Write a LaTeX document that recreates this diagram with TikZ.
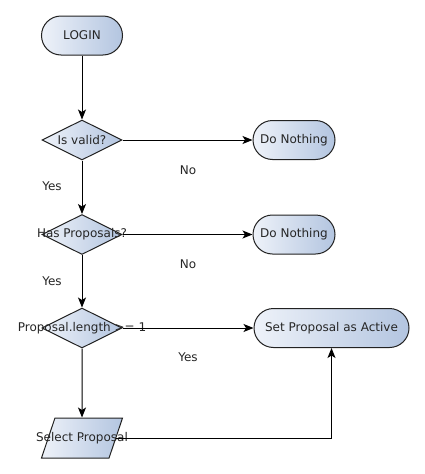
\documentclass[tikz,border=0pt]{standalone}
\usepackage{fontspec}
\setmainfont{DejaVu Sans}
\usetikzlibrary{shapes.geometric,arrows.meta}
\definecolor{fillA}{HTML}{EEF2F9}
\definecolor{fillB}{HTML}{B3C5E0}
\definecolor{edge}{HTML}{222222}
\tikzset{
  every node/.style={font=\fontsize{12}{14}\selectfont, text=black!85},
  shade/.style={draw=edge, line width=1pt, left color=fillA, right color=fillB},
  terminal/.style={shade, rectangle, rounded corners=19.5pt, minimum height=39pt, inner sep=0pt},
  decision/.style={shade, diamond, minimum width=80pt, minimum height=40pt, inner sep=0pt},
  iobox/.style={shade, trapezium, trapezium left angle=76, trapezium right angle=104,
    trapezium stretches=true, minimum width=81pt, minimum height=40pt, inner sep=0pt},
  flow/.style={draw=black, line width=1pt, -{Stealth[length=10pt,width=8pt,inset=2.5pt]}},
  note/.style={inner sep=0pt}
}
\begin{document}
\begin{tikzpicture}[x=1pt,y=-1pt]
  \path[use as bounding box, fill=white] (0,0) rectangle (424,474);

  % main column
  \node[terminal, minimum width=81pt] (login) at (82,35.5) {LOGIN};
  \node[decision, label={center:Is valid?}] (valid) at (82,140) {};
  \node[decision, label={center:Has Proposals?}] (has) at (82,234.5) {};
  \node[decision, label={center:Proposal.length >= 1}] (len) at (82,328) {};
  \node[iobox, label={center:Select Proposal}] (sel) at (82,438) {\rule{1pt}{1pt}};

  % outcomes on the right
  \node[terminal, minimum width=82pt] (none1) at (294,140) {Do Nothing};
  \node[terminal, minimum width=82pt] (none2) at (294,234.5) {Do Nothing};
  \node[terminal, minimum width=155pt] (act) at (331.5,328) {Set Proposal as Active};

  % branch labels
  \node[note] (no1) at (188,170) {No};
  \node[note] (yes1) at (52,186.5) {Yes};
  \node[note] (no2) at (188,264.5) {No};
  \node[note] (yes2) at (52,281) {Yes};
  \node[note] (yes3) at (188,357.5) {Yes};

  % connectors
  \draw[flow] (login.south) -- (valid.north);
  \draw[flow] (valid.east) -- (none1.west);
  \draw[flow] (valid.south) -- (has.north);
  \draw[flow] (has.east) -- (none2.west);
  \draw[flow] (has.south) -- (len.north);
  \draw[flow] (len.east) -- (act.west);
  \draw[flow] (len.south) -- (sel.north);
  \draw[flow] (sel.east) -| (act.south);
\end{tikzpicture}
\end{document}
